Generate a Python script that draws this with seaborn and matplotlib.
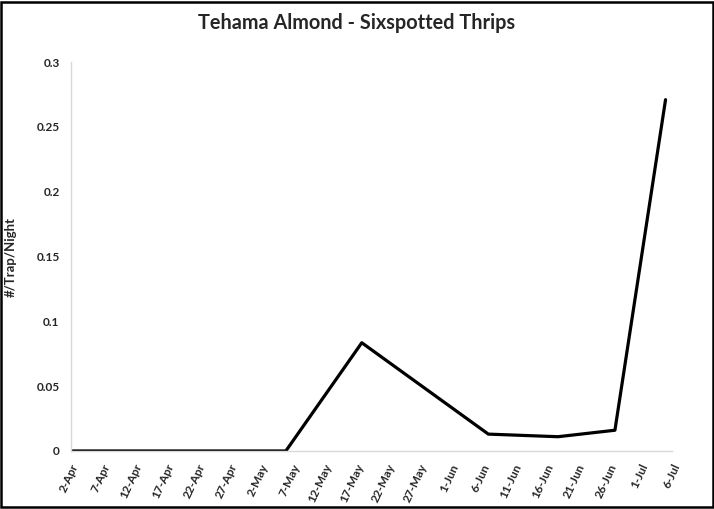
import matplotlib
matplotlib.use("Agg")
import matplotlib.pyplot as plt
from matplotlib.patches import Rectangle
import seaborn as sns
import pandas as pd

#Data

dates = ["2024-04-02", "2024-04-09", "2024-04-16", "2024-04-23", "2024-04-30",
         "2024-05-06", "2024-05-18", "2024-06-07", "2024-06-18", "2024-06-27",
         "2024-07-05"]
values = [0, 0, 0, 0, 0, 0, 0.0835, 0.013, 0.011, 0.016, 0.271]
y_ticks = [0, 0.05, 0.1, 0.15, 0.2, 0.25, 0.3]
y_tick_labels = ["0", "0.05", "0.1", "0.15", "0.2", "0.25", "0.3"]

df = pd.DataFrame({"date": pd.to_datetime(dates), "count": values})

#Plot

sns.set_style("white")
plt.rcParams["font.family"] = ["Lato", "DejaVu Sans"]

fig = plt.figure(figsize=(7.14, 5.09), dpi=100)
ax = fig.add_axes([0.099, 0.114, 0.842, 0.764])

sns.lineplot(
    data=df,
    x="date",
    y="count",
    color="black",
    linewidth=2.3,
    ax=ax
)

ax.set_xlim(pd.Timestamp("2024-04-02"), pd.Timestamp("2024-07-06"))
ax.set_ylim(0, 0.3)
ax.set_yticks(y_ticks)
ax.set_yticklabels(y_tick_labels, fontsize=8.5, fontweight="bold")
tick_dates = pd.date_range("2024-04-02", "2024-07-06", freq="5D")
ax.set_xticks(tick_dates)
ax.set_xticklabels(
    [f"{d.day}-{d.strftime('%b')}" for d in tick_dates],
    rotation=65,
    ha="right",
    rotation_mode="anchor",
    fontsize=8.5,
    fontweight="bold"
)
ax.tick_params(axis="both", length=0, pad=8)
ax.set_xlabel("")
ax.set_ylabel("#/Trap/Night", fontsize=9.5, fontweight="bold", labelpad=14)
for side in ["top", "right"]:
    ax.spines[side].set_visible(False)
for side in ["left", "bottom"]:
    ax.spines[side].set_color("#d9d9d9")
    ax.spines[side].set_linewidth(1)

fig.text(0.5, 0.955, "Tehama Almond - Sixspotted Thrips",
         ha="center", va="center", fontsize=14.3, fontweight="bold")

fig.patches.append(Rectangle((0.002, 0.003), 0.996, 0.994, transform=fig.transFigure,
                             fill=False, edgecolor="black", linewidth=1.8))

plt.savefig("out.png", dpi=100)
